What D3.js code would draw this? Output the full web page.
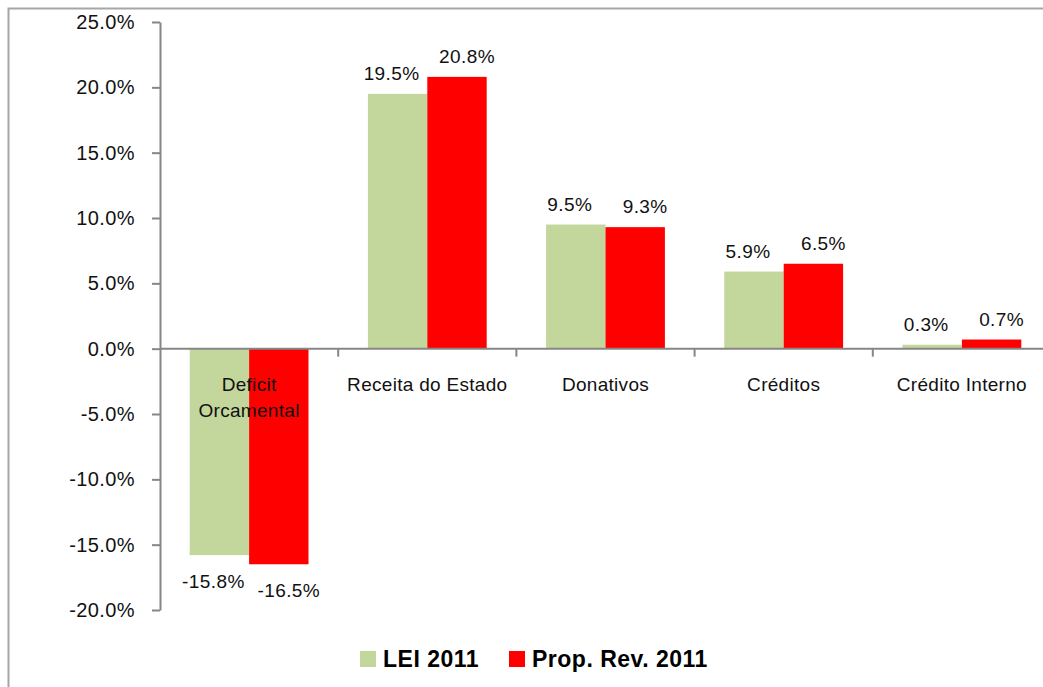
<!DOCTYPE html>
<html>
<head>
<meta charset="utf-8">
<script src="https://cdn.jsdelivr.net/npm/d3@7"></script>
<style>
    body { margin: 0; background: #fff; }
    svg { display: block; font-family: "Liberation Sans", Arial, sans-serif; }
</style>
</head>
<body>
<div id="chart"></div>
<script>
// Data
const categories = ["Deficit Orcamental", "Receita do Estado", "Donativos", "Créditos", "Crédito Interno"];
const seriesNames = ["LEI 2011", "Prop. Rev. 2011"];
const lei2011 = [-15.8, 19.5, 9.5, 5.9, 0.3];
const propRev2011 = [-16.5, 20.8, 9.3, 6.5, 0.7];
const yTicks = [-20, -15, -10, -5, 0, 5, 10, 15, 20, 25];
const colors = ["#C3D69B", "#FF0000"];

const width = 1043, height = 687;
const plot = { left: 160, right: 1051, top: 22, bottom: 610 };

// plain hyphen for negatives, like the original
const pct = v => d3.format(".1f")(v).replace("\u2212", "-") + "%";

const svg = d3.select("#chart").append("svg")
    .attr("width", width)
    .attr("height", height);

// Chart border (left + top visible)
svg.append("path")
    .attr("d", `M8.5,${height} L8.5,8.5 L${width},8.5`)
    .attr("fill", "none")
    .attr("stroke", "#a6a6a6")
    .attr("stroke-width", 2);

// Scales
const x0 = d3.scaleBand().domain(categories).range([plot.left, plot.right]).padding(0);
const x1 = d3.scaleBand().domain(seriesNames)
    .range([x0.bandwidth() / 6, x0.bandwidth() * 5 / 6]).padding(0);
const y = d3.scaleLinear().domain([-20, 25]).range([plot.bottom, plot.top]);

const rows = categories.map((c, i) => ({
    cat: c,
    values: [
        { s: seriesNames[0], v: lei2011[i], k: 0 },
        { s: seriesNames[1], v: propRev2011[i], k: 1 }
    ]
}));

// Y axis
const yAxis = d3.axisLeft(y).tickValues(yTicks)
    .tickFormat(pct)
    .tickSize(8).tickSizeOuter(0).tickPadding(17);

const yg = svg.append("g")
    .attr("transform", `translate(${plot.left},0)`)
    .call(yAxis);
yg.select(".domain").attr("stroke", "#868686").attr("stroke-width", 2);
yg.selectAll(".tick line").attr("stroke", "#868686").attr("stroke-width", 2);
yg.selectAll(".tick text")
    .attr("fill", "#111")
    .style("font-size", "20px")
    .style("letter-spacing", "0.4px");

// Bars
const groups = svg.selectAll(".grp")
    .data(rows)
    .join("g")
    .attr("class", "grp")
    .attr("transform", d => `translate(${x0(d.cat)},0)`);

groups.selectAll("rect")
    .data(d => d.values)
    .join("rect")
    .attr("x", d => x1(d.s))
    .attr("width", x1.bandwidth())
    .attr("y", d => y(Math.max(0, d.v)))
    .attr("height", d => Math.abs(y(d.v) - y(0)))
    .attr("fill", d => colors[d.k]);

// Data labels
groups.selectAll(".lbl")
    .data(d => d.values)
    .join("text")
    .attr("class", "lbl")
    .attr("x", d => x1(d.s) + x1.bandwidth() / 2 + (d.k === 0 ? -6 : 10))
    .attr("y", d => d.v >= 0 ? y(d.v) - 14 : y(d.v) + 33)
    .attr("text-anchor", "middle")
    .attr("fill", "#111")
    .style("font-size", "19px")
    .style("letter-spacing", "0.4px")
    .text(d => pct(d.v));

// Zero line with category ticks
const zg = svg.append("g").attr("transform", `translate(0,${y(0)})`);
zg.append("line")
    .attr("x1", plot.left).attr("x2", plot.right)
    .attr("stroke", "#868686").attr("stroke-width", 2);
zg.selectAll(".ctick")
    .data(categories.slice(1))
    .join("line")
    .attr("class", "ctick")
    .attr("x1", d => x0(d)).attr("x2", d => x0(d))
    .attr("y1", 0).attr("y2", 8)
    .attr("stroke", "#868686").attr("stroke-width", 2);

// Category labels (wrap the long first one like the original)
const wrapAt = { "Deficit Orcamental": ["Deficit", "Orcamental"] };
const cl = svg.selectAll(".cat")
    .data(categories)
    .join("text")
    .attr("class", "cat")
    .attr("text-anchor", "middle")
    .attr("fill", "#111")
    .style("font-size", "19px")
    .style("letter-spacing", "0.3px")
    .attr("x", d => x0(d) + x0.bandwidth() / 2)
    .attr("y", y(0) + 42);
cl.selectAll("tspan")
    .data(d => (wrapAt[d] || [d]).map(t => ({ t, c: d })))
    .join("tspan")
    .attr("x", d => x0(d.c) + x0.bandwidth() / 2)
    .attr("dy", (d, i) => i === 0 ? 0 : 26)
    .text(d => d.t);

// Legend
const legend = svg.append("g").attr("transform", "translate(360,651)");
const legendX = [0, 149];
const li = legend.selectAll(".li")
    .data(seriesNames)
    .join("g")
    .attr("class", "li")
    .attr("transform", (d, i) => `translate(${legendX[i]},0)`);
li.append("rect")
    .attr("width", 16).attr("height", 16)
    .attr("fill", (d, i) => colors[i]);
li.append("text")
    .attr("x", 23).attr("y", 16)
    .attr("fill", "#000")
    .style("font-size", "23px")
    .style("letter-spacing", "0.5px")
    .style("font-weight", "bold")
    .text(d => d);
</script>
</body>
</html>
